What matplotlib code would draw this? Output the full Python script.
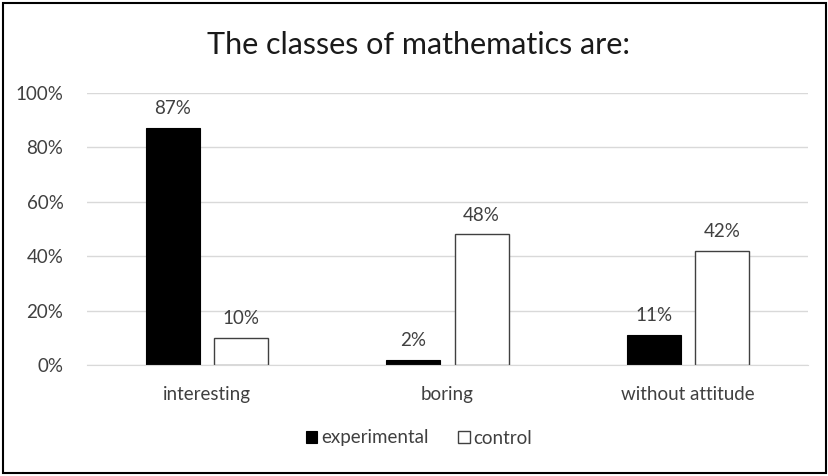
import numpy as np
import matplotlib as mpl
import matplotlib.pyplot as plt
from matplotlib.patches import Rectangle
from matplotlib.ticker import PercentFormatter

mpl.rcParams['font.family'] = ['Lato', 'DejaVu Sans']

categories = ['interesting', 'boring', 'without attitude']
experimental = [87, 2, 11]
control = [10, 48, 42]

fig = plt.figure(figsize=(8.29, 4.76), dpi=100)
ax = fig.add_axes([87/829, 1 - 365/476, 721/829, 272/476])

x = np.arange(len(categories))
w = 0.225
off = 0.142
b1 = ax.bar(x - off, experimental, w, color='black', edgecolor='black',
            linewidth=0.8, label='experimental')
b2 = ax.bar(x + off, control, w, color='white', edgecolor='#404040',
            linewidth=1.0, label='control')

for bars in (b1, b2):
    for r in bars:
        h = r.get_height()
        ax.text(r.get_x() + r.get_width()/2, h + 4, '%d%%' % h,
                ha='center', va='bottom', fontsize=13.5, color='#404040')

ax.set_xlim(-0.5, 2.5)
ax.set_ylim(0, 100)
ax.set_yticks(range(0, 101, 20))
ax.yaxis.set_major_formatter(PercentFormatter(decimals=0))
ax.set_xticks(x)
ax.set_xticklabels(categories)
ax.tick_params(axis='both', length=0, labelsize=13.5, labelcolor='#404040')
ax.tick_params(axis='y', pad=17)
ax.tick_params(axis='x', pad=15)
ax.grid(axis='y', color='#d9d9d9', linewidth=1)
ax.set_axisbelow(True)
for s in ('top', 'right', 'left'):
    ax.spines[s].set_visible(False)
ax.spines['bottom'].set_color('#d9d9d9')

fig.text(419/829, 1 - 45/476, 'The classes of mathematics are:',
         ha='center', va='center', fontsize=22, color='#1a1a1a')

fig.legend(loc='center', bbox_to_anchor=(419/829, 1 - 438/476), ncol=2,
           frameon=False, fontsize=13.5, handlelength=0.6, handleheight=0.6,
           handletextpad=0.2, columnspacing=1.6, labelcolor='#404040')

fig.patches.append(Rectangle((3/829, 3/476), 823/829, 470/476,
                             transform=fig.transFigure, fill=False,
                             edgecolor='black', linewidth=1.5))

fig.savefig('out.png')
